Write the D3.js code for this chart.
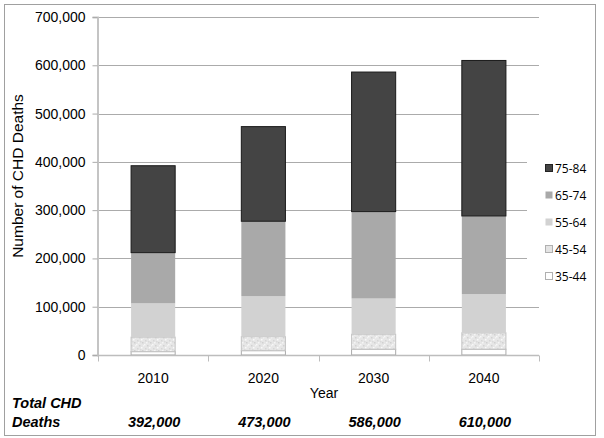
<!DOCTYPE html>
<html><head><meta charset="utf-8">
<script src="https://cdn.jsdelivr.net/npm/d3@7"></script>
<style>body{margin:0;background:#fff}svg{display:block}</style>
</head><body><svg id="c" width="604" height="438"></svg>
<script>
const years = ["2010","2020","2030","2040"];
const ageGroups = ["35-44","45-54","55-64","65-74","75-84"];
const v35_44 = [7000, 9000, 12000, 12000];
const v45_54 = [30000, 29000, 31000, 34000];
const v55_64 = [70000, 84000, 74000, 80000];
const v65_74 = [105000, 155000, 180000, 162000];
const v75_84 = [180000, 196000, 289000, 322000];
const totals = ["392,000","473,000","586,000","610,000"];
const yTicks = [0,100000,200000,300000,400000,500000,600000,700000];

const fills = {"35-44":"#ffffff","45-54":"url(#speckle)","55-64":"#d2d2d2","65-74":"#a9a9a9","75-84":"#444444"};
const strokes = {"35-44":"#aaaaaa","45-54":"#c4c4c4","55-64":"none","65-74":"none","75-84":"#1a1a1a"};
const legendFills = {"35-44":"#ffffff","45-54":"#e4e4e4","55-64":"#d2d2d2","65-74":"#a9a9a9","75-84":"#444444"};

const rows = years.map((y,i)=>({year:y,"35-44":v35_44[i],"45-54":v45_54[i],"55-64":v55_64[i],"65-74":v65_74[i],"75-84":v75_84[i]}));
const svg = d3.select("#c");
const FONT = "'Liberation Sans', Arial, sans-serif";

// pattern
const defs = svg.append("defs");
const pat = defs.append("pattern").attr("id","speckle").attr("patternUnits","userSpaceOnUse").attr("width",8).attr("height",8);
pat.append("rect").attr("width",8).attr("height",8).attr("fill","#e6e6e6");
[[0,0,"#f7f7f7"],[3,1,"#d2d2d2"],[5,3,"#f9f9f9"],[1,4,"#d6d6d6"],[6,6,"#d0d0d0"],[2,6,"#f5f5f5"],[7,1,"#f3f3f3"],[4,5,"#dadada"]]
  .forEach(d=>pat.append("rect").attr("x",d[0]).attr("y",d[1]).attr("width",1.5).attr("height",1.5).attr("fill",d[2]));

const x = d3.scaleBand().domain(years).range([98,539]).paddingInner(0.6).paddingOuter(0.3);
const y = d3.scaleLinear().domain([0,700000]).range([355,17]);

// outer frame
svg.append("rect").attr("x",4.5).attr("y",4.5).attr("width",591).attr("height",431).attr("fill","none").attr("stroke","#a0a0a0");

// gridlines
svg.append("g").selectAll("line").data(yTicks.filter(d=>d>0)).join("line")
  .attr("x1",98).attr("x2",539).attr("y1",d=>Math.round(y(d))+0.5).attr("y2",d=>Math.round(y(d))+0.5)
  .attr("stroke","#ababab").attr("stroke-width",1);

// bars
const stack = d3.stack().keys(ageGroups)(rows);
svg.append("g").selectAll("g").data(stack).join("g")
  .each(function(layer){
    d3.select(this).selectAll("rect").data(layer).join("rect")
      .attr("x",d=>x(d.data.year)).attr("width",x.bandwidth())
      .attr("y",d=>y(d[1])).attr("height",d=>y(d[0])-y(d[1]))
      .attr("fill",fills[layer.key]).attr("stroke",strokes[layer.key]).attr("stroke-width",1);
  });

// y axis
const yAxis = svg.append("g").attr("transform","translate(97.5,0)")
  .call(d3.axisLeft(y).tickValues(yTicks).tickSize(5).tickPadding(7).tickFormat(d3.format(",")));
yAxis.select(".domain").attr("stroke","#c4c4c4").attr("stroke-width",2);
yAxis.selectAll(".tick line").attr("stroke","#ababab");
yAxis.selectAll("text").attr("font-family",FONT).attr("font-size",14).attr("fill","#000");

// x axis
const xg = svg.append("g").attr("transform","translate(0,355.5)");
xg.append("line").attr("x1",97).attr("x2",539).attr("stroke","#bdbdbd").attr("stroke-width",1.5);
const bounds = [98].concat(years.map(d=>x(d)+x.bandwidth()/2+x.step()/2));
xg.selectAll("line.t").data(bounds).join("line").attr("class","t")
  .attr("x1",d=>Math.round(d)+0.5).attr("x2",d=>Math.round(d)+0.5).attr("y1",0).attr("y2",6).attr("stroke","#bdbdbd");
svg.append("g").selectAll("text").data(years).join("text")
  .attr("x",d=>x(d)+x.bandwidth()/2).attr("y",383).attr("text-anchor","middle")
  .attr("font-family",FONT).attr("font-size",14).text(d=>d);

svg.append("text").attr("x",324).attr("y",398).attr("text-anchor","middle")
  .attr("font-family",FONT).attr("font-size",14).text("Year");

svg.append("text").attr("transform","translate(23,176) rotate(-90)").attr("text-anchor","middle")
  .attr("font-family",FONT).attr("font-size",15.5).text("Number of CHD Deaths");

// totals
svg.append("text").attr("x",12).attr("y",408).attr("font-family",FONT).attr("font-size",14.5)
  .attr("font-weight","bold").attr("font-style","italic").text("Total CHD");
svg.append("text").attr("x",12).attr("y",427).attr("font-family",FONT).attr("font-size",14.5)
  .attr("font-weight","bold").attr("font-style","italic").text("Deaths");
svg.append("g").selectAll("text").data(years).join("text")
  .attr("x",d=>x(d)+x.bandwidth()/2+1).attr("y",427).attr("text-anchor","middle")
  .attr("font-family",FONT).attr("font-size",14.5).attr("font-weight","bold").attr("font-style","italic")
  .text((d,i)=>totals[i]);

// legend
const leg = svg.append("g");
leg.append("rect").attr("x",527).attr("y",128).attr("width",66).attr("height",172).attr("fill","#fff");
const legOrder = ageGroups.slice().reverse();
const li = leg.selectAll("g").data(legOrder).join("g").attr("transform",(d,i)=>`translate(545,${168+i*27})`);
li.append("rect").attr("x",0.5).attr("y",-3.5).attr("width",7).attr("height",7)
  .attr("fill",d=>legendFills[d]).attr("stroke",d=>d==="75-84"?"#222":(d==="35-44"||d==="45-54")?"#b0b0b0":"none");
li.append("text").attr("x",10).attr("y",4.5).attr("font-family","'Open Sans', sans-serif").attr("font-size",12).text(d=>d);
</script></body></html>
